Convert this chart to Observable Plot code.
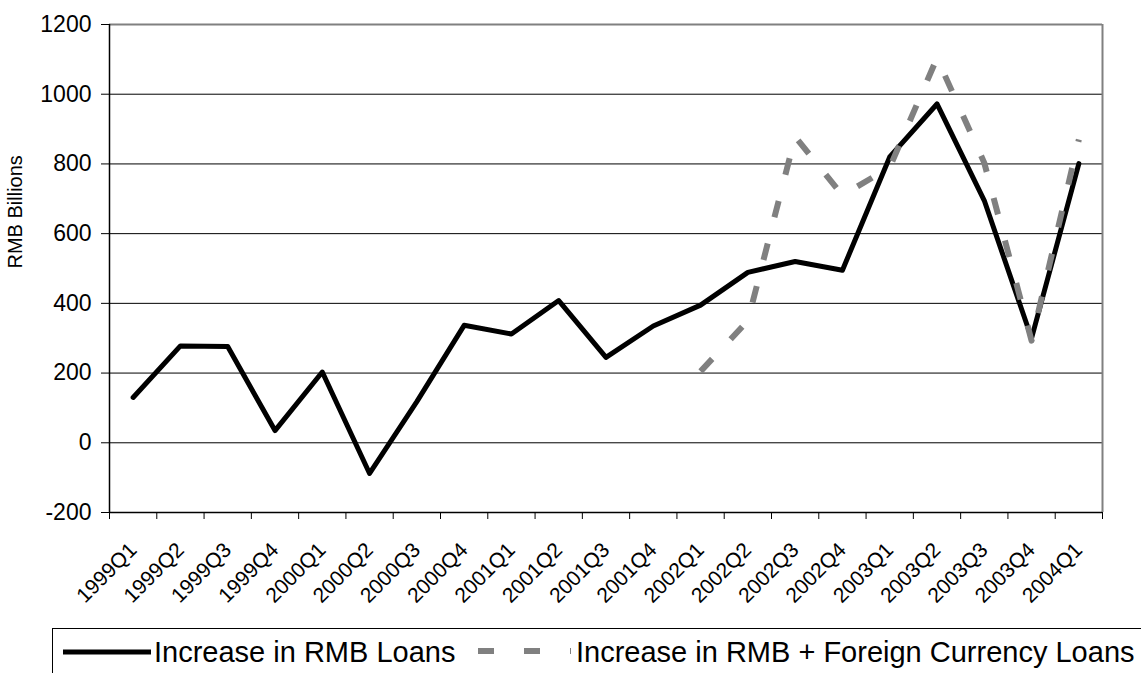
<!DOCTYPE html>
<html>
<head>
<meta charset="utf-8">
<script src="https://cdn.jsdelivr.net/npm/d3@7"></script>
<script src="https://cdn.jsdelivr.net/npm/@observablehq/plot@0.6"></script>
<style>
  html, body { margin: 0; padding: 0; background: #fff; overflow: hidden; }
  body { font-family: "Liberation Sans", Arial, sans-serif; color: #000; width: 1141px; height: 673px; }
  #legend { position: relative; margin: 8px 0 0 52px; width: 1150px; height: 60px;
            border-top: 1.5px solid #000; border-left: 1.5px solid #000; box-sizing: border-box; }
  #legend .item { position: absolute; top: 9px; font-size: 29px; white-space: nowrap; line-height: 1; }
  #legend svg { position: absolute; }
</style>
</head>
<body>
<div id="chart"></div>
<div id="legend"></div>
<script>
// ---- data ----
const quarters = ["1999Q1","1999Q2","1999Q3","1999Q4","2000Q1","2000Q2","2000Q3","2000Q4",
  "2001Q1","2001Q2","2001Q3","2001Q4","2002Q1","2002Q2","2002Q3","2002Q4",
  "2003Q1","2003Q2","2003Q3","2003Q4","2004Q1"];
const rmbLoans = [130, 278, 276, 35, 203, -88, 118, 337, 312, 408, 245, 335,
  395, 489, 520, 495, 820, 972, 695, 300, 801];
const rmbForeignLoans = [null, null, null, null, null, null, null, null, null, null, null, null,
  205, 350, 878, 710, 790, 1104, 803, 293, 870];
const yTicks = [-200, 0, 200, 400, 600, 800, 1000, 1200];
const seriesNames = ["Increase in RMB Loans", "Increase in RMB + Foreign Currency Loans"];
const yLabel = "RMB Billions";

// ---- table built from arrays ----
const rows = quarters.map((q, i) => ({ q, pos: i + 0.5, rmb: rmbLoans[i], total: rmbForeignLoans[i] }));
const boundaries = d3.range(quarters.length + 1);
const centers = quarters.map((q, i) => i + 0.5);

const chart = Plot.plot({
  width: 1141,
  height: 620,
  marginLeft: 109,
  marginRight: 39,
  marginTop: 24,
  marginBottom: 108,
  style: { fontFamily: "Liberation Sans, Arial, sans-serif", color: "#000", background: "#fff" },
  x: { domain: [0, quarters.length], axis: null },
  y: { domain: [-200, 1200], axis: null },
  marks: [
    Plot.gridY(yTicks, { stroke: "#000", strokeOpacity: 1, strokeWidth: 1 }),
    Plot.ruleY([1200], { stroke: "#808080", strokeWidth: 2 }),
    Plot.ruleX([quarters.length], { stroke: "#808080", strokeWidth: 2 }),
    Plot.ruleX([0], { stroke: "#000", strokeWidth: 1.5 }),
    Plot.ruleY([-200], { stroke: "#000", strokeWidth: 1.5 }),
    Plot.axisY(yTicks, { anchor: "left", tickSize: 8, tickPadding: 10, fontSize: 23, label: null,
      stroke: "#000", tickFormat: d => String(d) }),
    Plot.axisX(boundaries, { anchor: "bottom", tickSize: 7, tickFormat: () => "", label: null }),
    Plot.axisX(centers, { anchor: "bottom", tickSize: 0, tickPadding: 34, tickRotate: -45,
      fontSize: 21, tickFormat: (d, i) => quarters[i], label: null }),
    Plot.text([yLabel], { frameAnchor: "left", dx: -94, rotate: -90, fontSize: 20, fill: "#000" }),
    Plot.line(rows, { x: "pos", y: "rmb", stroke: "#000", strokeWidth: 5, strokeLinejoin: "round" }),
    Plot.line(rows.filter(d => d.total != null), { x: "pos", y: "total", stroke: "#808080",
      strokeWidth: 6, strokeDasharray: "17,27", strokeLinecap: "butt", strokeLinejoin: "round" })
  ]
});
document.getElementById("chart").appendChild(chart);

// ---- legend ----
const legend = document.getElementById("legend");
legend.innerHTML = `
  <svg style="left:8px;top:18px" width="92" height="10"><line x1="2" x2="90" y1="5" y2="5" stroke="#000" stroke-width="5"/></svg>
  <div class="item" style="left:101px">${seriesNames[0]}</div>
  <svg style="left:420px;top:17px" width="110" height="10"><line x1="5" x2="98" y1="5" y2="5" stroke="#808080" stroke-width="6" stroke-dasharray="16,30"/></svg>
  <div class="item" style="left:523px">${seriesNames[1]}</div>`;
</script>
</body>
</html>
